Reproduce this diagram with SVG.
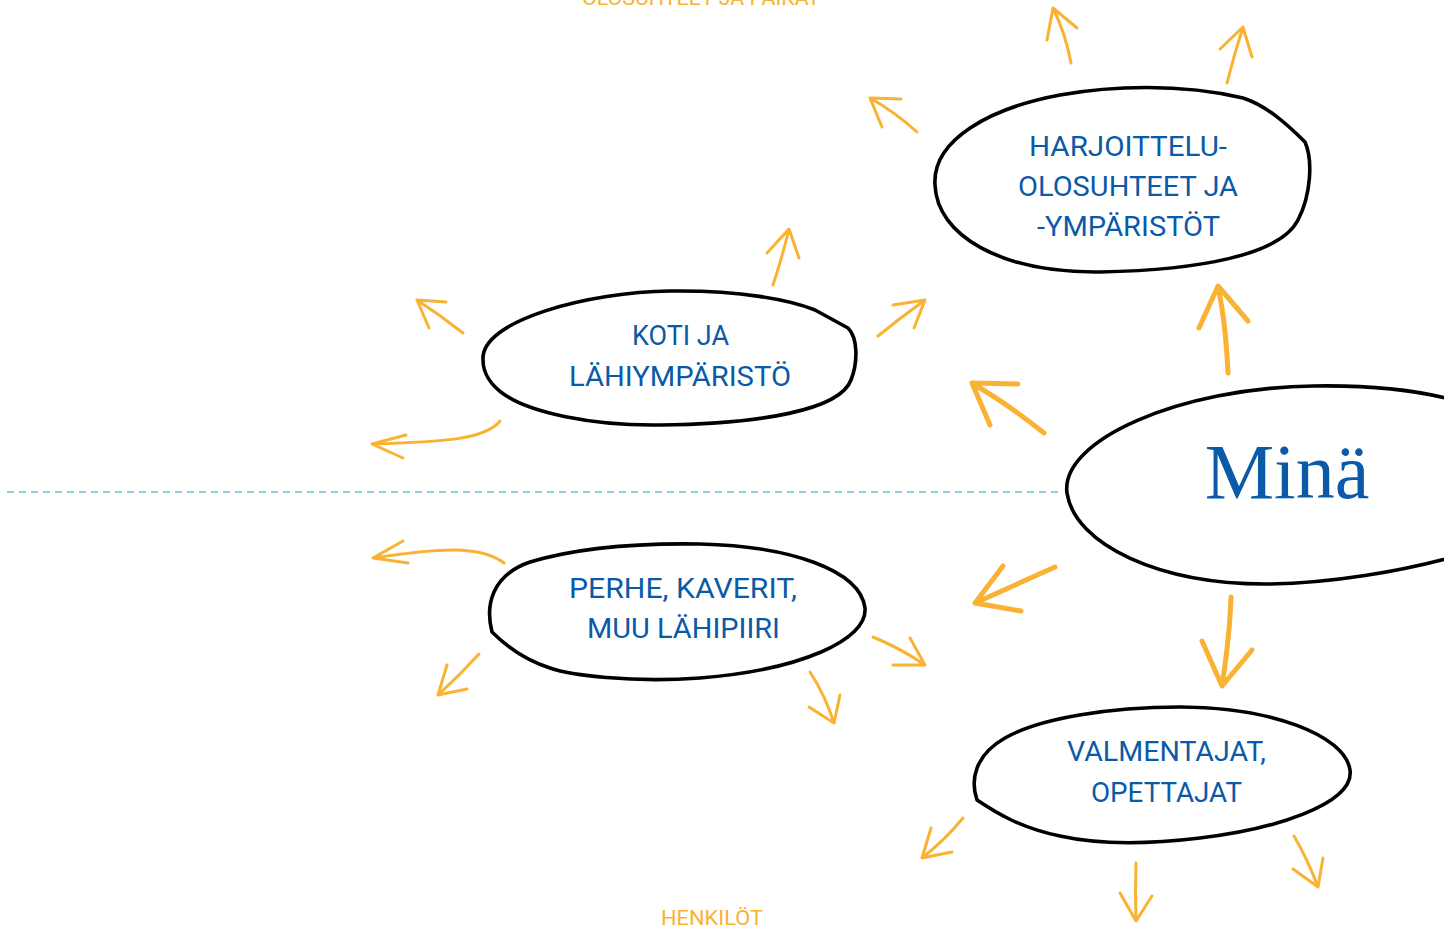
<svg xmlns="http://www.w3.org/2000/svg" width="1444" height="931" viewBox="0 0 1444 931">
  <style>
    .bubble { fill: #ffffff; stroke: #000000; stroke-width: 3.6; stroke-linejoin: round; }
    .label { font-family: Roboto, "Liberation Sans", sans-serif; font-size: 28.5px; fill: #0a5aa8; text-anchor: middle; }
    .me { font-family: "Liberation Serif", "DejaVu Serif", serif; font-size: 78px; fill: #0a5aa8; text-anchor: middle; }
    .zone { font-family: Roboto, "Liberation Sans", sans-serif; font-size: 20.5px; fill: #f9b233; text-anchor: middle; }
    .arr { fill: none; stroke: #f9b233; stroke-width: 3; stroke-linecap: round; stroke-linejoin: round; }
    .arr-big { fill: none; stroke: #f9b233; stroke-width: 5; stroke-linecap: round; stroke-linejoin: round; }
    .divider { stroke: #8fcfd6; stroke-width: 2; stroke-dasharray: 7 5; fill: none; }
  </style>

  <rect width="1444" height="931" fill="#ffffff"/>

  <!-- zone captions -->
  <text class="zone" x="701" y="5" textLength="238" lengthAdjust="spacingAndGlyphs">OLOSUHTEET JA PAIKAT</text>
  <text class="zone" x="712" y="925" textLength="102" lengthAdjust="spacingAndGlyphs">HENKILÖT</text>

  <!-- divider between the two zones -->
  <line class="divider" x1="7" y1="492" x2="1062" y2="492"/>

  <!-- connectors: hand-drawn arrows -->
  <g id="connectors">
    <!-- from Minä -->
    <path class="arr-big" d="M1228,373 C1226,330 1222,305 1218,287 M1199,328 L1218,286 L1248,321"/>
    <path class="arr-big" d="M1044,433 Q1005,402 973,384 M990,425 L972,383 L1018,384"/>
    <path class="arr-big" d="M1055,567 Q1015,585 975,603 M1003,566 L975,603 L1021,611"/>
    <path class="arr-big" d="M1231,597 C1230,630 1226,660 1222,686 M1202,641 L1222,686 L1252,650"/>

    <!-- around the training environments -->
    <path class="arr" d="M1071,63 Q1066,35 1053,8 M1047,40 L1053,8 L1077,28"/>
    <path class="arr" d="M1227,83 Q1234,55 1243,27 M1220,49 L1243,27 L1252,57"/>
    <path class="arr" d="M917,132 Q895,112 870,98 M882,127 L870,98 L901,99"/>

    <!-- around home -->
    <path class="arr" d="M773,285 Q782,258 789,229 M767,253 L789,229 L799,258"/>
    <path class="arr" d="M878,336 Q900,318 925,300 M893,305 L925,300 L914,328"/>
    <path class="arr" d="M463,333 Q440,315 417,300 M429,328 L417,300 L446,302"/>
    <path class="arr" d="M500,421 C485,440 440,442 372,444 M406,435 L372,444 L403,458"/>

    <!-- around family -->
    <path class="arr" d="M504,563 C480,545 440,548 373,558 M403,541 L373,558 L408,563"/>
    <path class="arr" d="M479,654 Q460,675 438,695 M447,665 L438,695 L467,689"/>
    <path class="arr" d="M810,672 Q825,695 834,723 M809,707 L834,723 L840,695"/>
    <path class="arr" d="M873,637 Q900,648 925,665 M893,665 L925,665 L910,638"/>

    <!-- around coaches -->
    <path class="arr" d="M963,818 Q945,840 922,858 M931,828 L922,858 L952,852"/>
    <path class="arr" d="M1136,863 Q1135,892 1136,921 M1120,893 L1136,921 L1152,896"/>
    <path class="arr" d="M1294,836 Q1308,860 1318,887 M1293,869 L1318,887 L1323,858"/>
  </g>

  <g id="mina">
    <path class="bubble" d="M1067,493 C1060,440 1180,388 1313,386 C1370,385 1420,390 1460,402 L1460,555 C1400,572 1330,583 1270,584 C1160,585 1075,545 1067,493 Z"/>
    <text class="me" x="1287" y="498">Minä</text>
  </g>

  <g id="harjoitteluolosuhteet">
    <path class="bubble" d="M935,185 C932,140 990,108 1060,95 C1110,86 1180,83 1243,98 C1265,105 1285,122 1305,142 C1313,160 1311,195 1298,220 C1280,255 1200,270 1100,272 C1000,273 937,235 935,185 Z"/>
    <text class="label" x="1128" y="156" textLength="198" lengthAdjust="spacingAndGlyphs">HARJOITTELU-</text>
    <text class="label" x="1128" y="196" textLength="220" lengthAdjust="spacingAndGlyphs">OLOSUHTEET JA</text>
    <text class="label" x="1128.5" y="236" textLength="183" lengthAdjust="spacingAndGlyphs">-YMPÄRISTÖT</text>
  </g>

  <g id="koti">
    <path class="bubble" d="M483,360 C480,320 590,292 670,291 C740,290 790,300 815,310 L848,328 C858,338 858,362 851,380 C840,410 760,424 660,425 C590,426 530,412 505,395 C490,385 483,372 483,360 Z"/>
    <text class="label" x="680.5" y="345" textLength="97" lengthAdjust="spacingAndGlyphs">KOTI JA</text>
    <text class="label" x="680" y="386" textLength="222" lengthAdjust="spacingAndGlyphs">LÄHIYMPÄRISTÖ</text>
  </g>

  <g id="perhe">
    <path class="bubble" d="M492,632 C485,605 492,575 530,562 C580,547 640,543 700,544 C790,546 860,570 865,608 C868,640 800,670 700,678 C630,683 570,675 550,668 C525,660 505,645 492,632 Z"/>
    <text class="label" x="683" y="598" textLength="228" lengthAdjust="spacingAndGlyphs">PERHE, KAVERIT,</text>
    <text class="label" x="683.5" y="638" textLength="193" lengthAdjust="spacingAndGlyphs">MUU LÄHIPIIRI</text>
  </g>

  <g id="valmentajat">
    <path class="bubble" d="M977,800 C970,780 975,755 1005,738 C1040,718 1110,707 1180,707 C1270,707 1345,735 1350,770 C1355,805 1270,830 1200,838 C1150,844 1100,845 1060,836 C1020,828 995,812 977,800 Z"/>
    <text class="label" x="1166.5" y="761" textLength="199" lengthAdjust="spacingAndGlyphs">VALMENTAJAT,</text>
    <text class="label" x="1166.5" y="802" textLength="151" lengthAdjust="spacingAndGlyphs">OPETTAJAT</text>
  </g>
</svg>
